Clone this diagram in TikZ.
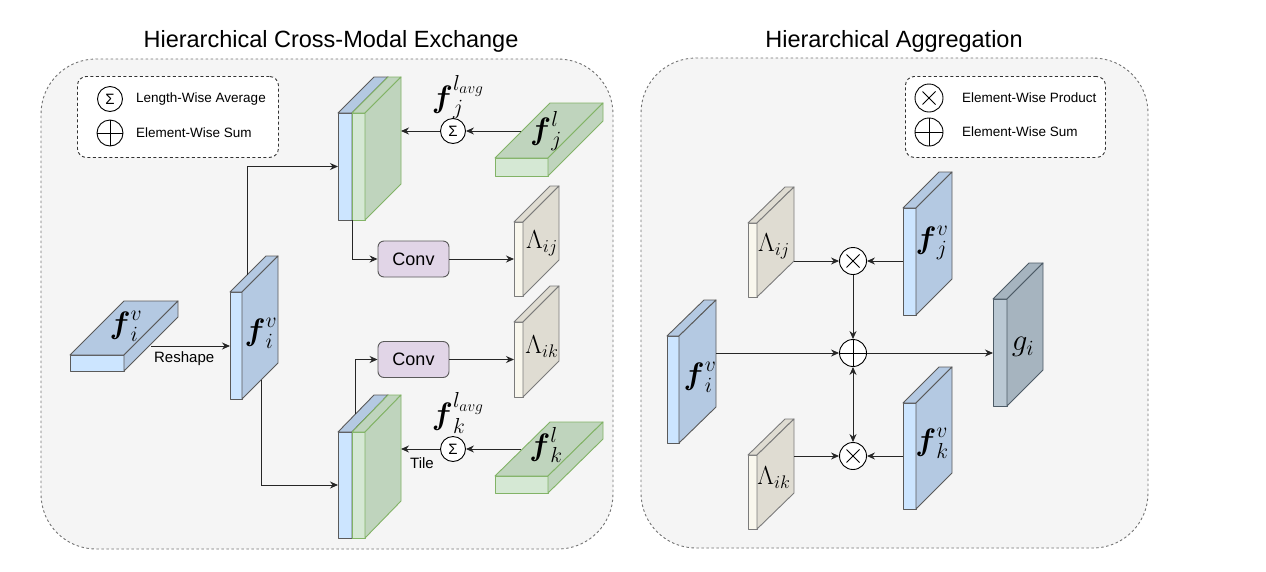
\RequirePackage{fix-cm}
\documentclass[tikz,border=0pt]{standalone}
\usepackage{amsmath}
\usepackage[no-math]{fontspec}
\setmainfont{Liberation Sans}
\usetikzlibrary{arrows.meta,backgrounds,calc,positioning}

\definecolor{panelFill}{HTML}{F5F5F5}
\definecolor{blueFront}{HTML}{CCE5FF}
\definecolor{blueSide}{HTML}{B4C9E2}
\definecolor{greenFront}{HTML}{D5E8D4}
\definecolor{greenSide}{HTML}{BFD4BD}
\definecolor{greenLine}{HTML}{82B366}
\definecolor{lamFront}{HTML}{F9F7ED}
\definecolor{lamSide}{HTML}{DFDCD2}
\definecolor{grayFront}{HTML}{BAC8D3}
\definecolor{graySide}{HTML}{A6B4BF}
\definecolor{grayLine}{HTML}{4D5B66}
\definecolor{convFill}{HTML}{E1D5E7}
\definecolor{edgeLine}{HTML}{5A5A5A}

% top face and side face of a block whose front face is node #1
\newcommand{\blockdepth}[4]{%
  \draw[#4] (#1.north west) -- ([shift={(#2,-#3)}]#1.north west) -- ([shift={(#2,-#3)}]#1.north east) -- (#1.north east) -- cycle;
  \draw[#4] (#1.north east) -- ([shift={(#2,-#3)}]#1.north east) -- ([shift={(#2,-#3)}]#1.south east) -- (#1.south east) -- cycle;
}

\begin{document}
\begin{tikzpicture}[x=1pt, y=-1pt,
  panel/.style={draw=black!55, dash pattern=on 2.5pt off 2.5pt, line width=0.9pt, fill=panelFill, rounded corners=55pt, inner sep=0pt, outer sep=0pt, anchor=north west},
  legend box/.style={draw=black!80, dash pattern=on 3pt off 2.5pt, line width=0.9pt, fill=white, rounded corners=9pt, inner sep=0pt, anchor=north west},
  panel title/.style={font=\fontsize{23.5}{26}\selectfont},
  legend text/.style={font=\fontsize{13.5}{15}\selectfont, anchor=west, inner sep=0pt},
  small text/.style={font=\fontsize{15}{17}\selectfont, inner sep=0pt},
  face/.style={draw, line width=0.9pt, inner sep=0pt, outer sep=0pt, anchor=north west, line join=round},
  blue face/.style={face, draw=edgeLine, fill=blueFront},
  blue depth/.style={draw=edgeLine, fill=blueSide, line width=0.9pt, line join=round},
  green face/.style={face, draw=greenLine, fill=greenFront},
  green depth/.style={draw=greenLine, fill=greenSide, line width=0.9pt, line join=round},
  lam face/.style={face, draw=edgeLine!80, fill=lamFront},
  lam depth/.style={draw=edgeLine!80, fill=lamSide, line width=0.9pt, line join=round},
  gray face/.style={face, draw=grayLine, fill=grayFront},
  gray depth/.style={draw=grayLine, fill=graySide, line width=0.9pt, line join=round},
  big label/.style={font=\fontsize{31}{33}\selectfont, inner sep=0pt},
  mid label/.style={font=\fontsize{26}{28}\selectfont, inner sep=0pt},
  conv box/.style={draw=edgeLine, fill=convFill, rounded corners=6pt, line width=0.9pt, minimum width=71pt, minimum height=36pt, font=\fontsize{18}{20}\selectfont},
  avg op/.style={circle, draw, fill=white, line width=0.9pt, minimum size=25pt, inner sep=0pt, font=\fontsize{15}{15}\selectfont},
  sum op/.style={circle, draw, fill=white, line width=0.9pt, minimum size=27pt, inner sep=0pt,
    path picture={\draw[line width=0.9pt] (path picture bounding box.north) -- (path picture bounding box.south) (path picture bounding box.west) -- (path picture bounding box.east);}},
  prod op/.style={circle, draw, fill=white, line width=0.9pt, minimum size=27pt, inner sep=0pt,
    path picture={\draw[line width=0.9pt] ([shift={(-6.5pt,-6.5pt)}]path picture bounding box.center) -- ([shift={(6.5pt,6.5pt)}]path picture bounding box.center) ([shift={(-6.5pt,6.5pt)}]path picture bounding box.center) -- ([shift={(6.5pt,-6.5pt)}]path picture bounding box.center);}},
  relation/.style={-{Stealth[length=8pt,width=7pt]}, line width=0.9pt, draw=black!85},
  both ways/.style={{Stealth[length=8pt,width=7pt]}-{Stealth[length=8pt,width=7pt]}, line width=0.9pt, draw=black!85}
]

\useasboundingbox (0,0) rectangle (1266,571);
\fill[white] (0,0) rectangle (1266,571);

% panels and titles
\node[panel, minimum width=572pt, minimum height=490pt] (panelL) at (41,59) {};
\node[panel, minimum width=507pt, minimum height=490pt] (panelR) at (641,58) {};
\node[panel title] (titleL) at (331,41) {Hierarchical Cross-Modal Exchange};
\node[panel title] (titleR) at (894,41) {Hierarchical Aggregation};

% -----------------------------------------------------------------------------
% Left panel: cross-modal exchange
% -----------------------------------------------------------------------------
\node[legend box, minimum width=201pt, minimum height=81pt] (legendL) at (77,76) {};
\node[avg op, minimum size=25pt] (legAvg) at (110,99) {Σ};
\node[sum op, minimum size=26pt] (legSumL) at (110,133) {};
\node[legend text] (legAvgText) at (136,99) {Length-Wise Average};
\node[legend text] (legSumLText) at (136,133) {Element-Wise Sum};

% input slab and reshaped block
\node[blue face, minimum width=54pt, minimum height=16pt] (fivIn) at (70,355) {};
\blockdepth{fivIn}{54}{54}{blue depth}
\node[big label] (fivInLab) at (126,326) {$\boldsymbol{f}_i^v$};

\node[blue face, minimum width=12pt, minimum height=107pt] (fivR) at (230,292) {};
\blockdepth{fivR}{36}{36}{blue depth}
\node[big label] (fivRLab) at (261,333) {$\boldsymbol{f}_i^v$};

% concatenated blocks
\node[blue face, minimum width=14pt, minimum height=107pt] (catJb) at (338,113) {};
\blockdepth{catJb}{36}{36}{blue depth}
\node[green face, minimum width=13pt, minimum height=107pt] (catJg) at (352,113) {};
\blockdepth{catJg}{36}{36}{green depth}

\node[blue face, minimum width=14pt, minimum height=106pt] (catKb) at (338,432) {};
\blockdepth{catKb}{36}{37}{blue depth}
\node[green face, minimum width=13pt, minimum height=106pt] (catKg) at (352,432) {};
\blockdepth{catKg}{36}{37}{green depth}

% language slabs
\node[green face, minimum width=53pt, minimum height=18pt] (fjl) at (495,158) {};
\blockdepth{fjl}{55}{55}{green depth}
\node[big label] (fjlLab) at (546,131) {$\boldsymbol{f}_j^l$};

\node[green face, minimum width=53pt, minimum height=17pt] (fkl) at (495,476) {};
\blockdepth{fkl}{55}{54}{green depth}
\node[big label] (fklLab) at (546,445) {$\boldsymbol{f}_k^l$};

% attention maps
\node[lam face, minimum width=9pt, minimum height=74pt] (lamIJ) at (514,222) {};
\blockdepth{lamIJ}{36}{36}{lam depth}
\node[mid label] (lamIJLab) at (542,243) {$\Lambda_{ij}$};

\node[lam face, minimum width=9pt, minimum height=75pt] (lamIK) at (514,322) {};
\blockdepth{lamIK}{36}{36}{lam depth}
\node[mid label] (lamIKLab) at (542,347) {$\Lambda_{ik}$};

% operators
\node[conv box] (convJ) at (413.5,259) {Conv};
\node[conv box] (convK) at (413.5,359.5) {Conv};
\node[avg op] (avgJ) at (453,131) {Σ};
\node[avg op] (avgK) at (453,449) {Σ};
\node[big label] (avgJLab) at (458,97) {$\boldsymbol{f}_j^{l_{avg}}$};
\node[big label] (avgKLab) at (458,413) {$\boldsymbol{f}_k^{l_{avg}}$};

% connection points on block faces
\coordinate (fivInOut) at (151,346);
\coordinate (fivRTop) at (247,275);
\coordinate (fivRBot) at (261,380);
\coordinate (catKTop) at (355.5,414);
\coordinate (catJIn) at (401,131);
\coordinate (catKIn) at (401,449);
\coordinate (fjlOut) at (521,131);
\coordinate (fklOut) at (521,449);

\draw[relation] (fivInOut) -- (fivInOut -| fivR.west) node[small text, below=5pt, pos=0.42] (reshapeLab) {Reshape};
\draw[relation] (fivRTop) |- (catJb.west);
\draw[relation] (fivRBot) |- (catKb.west);
\draw[relation] (catJb.south east) |- (convJ.west);
\draw[relation] (catKTop) |- (convK.west);
\draw[relation] (convJ.east) -- (lamIJ.west);
\draw[relation] (convK.east) -- (lamIK.west);
\draw[relation] (fjlOut) -- (avgJ);
\draw[relation] (fklOut) -- (avgK);
\draw[relation] (avgJ) -- (catJIn);
\draw[relation] (avgK) -- (catKIn);
\node[small text] (tileLab) at (422,463) {Tile};

% -----------------------------------------------------------------------------
% Right panel: aggregation
% -----------------------------------------------------------------------------
\node[legend box, minimum width=200pt, minimum height=81pt] (legendR) at (905,76) {};
\node[prod op, minimum size=28pt] (legProd) at (929,98) {};
\node[sum op, minimum size=28pt] (legSumR) at (929,132) {};
\node[legend text] (legProdText) at (962,98) {Element-Wise Product};
\node[legend text] (legSumRText) at (962,132) {Element-Wise Sum};

\node[blue face, minimum width=12pt, minimum height=107pt] (fivA) at (667,336) {};
\blockdepth{fivA}{37}{36}{blue depth}
\node[big label] (fivALab) at (700,377) {$\boldsymbol{f}_i^v$};

\node[lam face, minimum width=9pt, minimum height=74pt] (lamA) at (748,223) {};
\blockdepth{lamA}{37}{36}{lam depth}
\node[mid label] (lamALab) at (774,246) {$\Lambda_{ij}$};

\node[lam face, minimum width=9pt, minimum height=74pt] (lamB) at (748,455) {};
\blockdepth{lamB}{37}{36}{lam depth}
\node[mid label] (lamBLab) at (774,478) {$\Lambda_{ik}$};

\node[blue face, minimum width=13pt, minimum height=107pt] (fjvA) at (903,208) {};
\blockdepth{fjvA}{36}{36}{blue depth}
\node[big label] (fjvALab) at (932,243) {$\boldsymbol{f}_j^v$};

\node[blue face, minimum width=13pt, minimum height=106pt] (fkvA) at (903,403) {};
\blockdepth{fkvA}{36}{36}{blue depth}
\node[big label] (fkvALab) at (932,443) {$\boldsymbol{f}_k^v$};

\node[gray face, minimum width=14pt, minimum height=107pt] (giA) at (993,299) {};
\blockdepth{giA}{36}{36}{gray depth}
\node[big label] (giALab) at (1023,347) {$g_i$};

\node[prod op] (prodJ) at (853,261) {};
\node[sum op] (sumA) at (853,353) {};
\node[prod op] (prodK) at (853,456) {};

\coordinate (lamAOut) at (794,261);
\coordinate (lamBOut) at (794,456);
\coordinate (fivAOut) at (716,353);

\draw[relation] (lamAOut) -- (prodJ);
\draw[relation] (fjvA.west |- prodJ) -- (prodJ);
\draw[relation] (prodJ) -- (sumA);
\draw[relation] (fivAOut) -- (sumA);
\draw[relation] (sumA) -- (sumA -| giA.west);
\draw[both ways] (sumA) -- (prodK);
\draw[relation] (lamBOut) -- (prodK);
\draw[relation] (fkvA.west |- prodK) -- (prodK);

\end{tikzpicture}
\end{document}
